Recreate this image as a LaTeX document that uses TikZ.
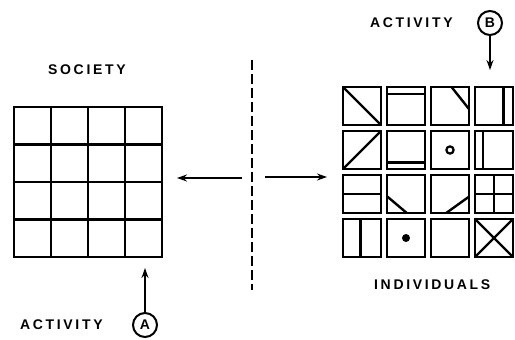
\documentclass[tikz,border=0pt]{standalone}
\usepackage{fontspec}
\usetikzlibrary{arrows.meta,calc}
\newfontfamily\labfont[LetterSpace=19]{Liberation Sans}
\newfontfamily\plainfont{Liberation Sans}
\begin{document}
\begin{tikzpicture}[x=1pt,y=-1pt,
  lab/.style={inner sep=0pt,anchor=west,font=\labfont\bfseries\fontsize{14}{16}\selectfont},
  letterring/.style={circle,draw,line width=2pt,minimum size=24pt,inner sep=0pt,
    font=\plainfont\bfseries\fontsize{14}{16}\selectfont},
  cellbox/.style={draw,line width=2.6pt,minimum size=38pt,inner sep=0pt,outer sep=0pt},
  mark line/.style={line width=2.4pt},
  gridline/.style={line width=2.2pt},
  flow/.style={line width=2pt,-{Stealth[length=10pt,width=7pt]}},
  cut/.style={line width=2.2pt,dash pattern=on 10pt off 4pt}]
\useasboundingbox (0,0) rectangle (515,340);

% society: one square split into 4 x 4 equal cells
\node[draw,line width=2.6pt,minimum width=148pt,minimum height=150pt,inner sep=0pt,outer sep=0pt,anchor=north west]
  (soc) at (14,107) {};
\foreach \i in {1,2,3} {
  \draw[gridline] ($(soc.north west)+(37*\i,0)$) -- ($(soc.south west)+(37*\i,0)$);
  \draw[gridline] ($(soc.north west)+(0,37.5*\i)$) -- ($(soc.north east)+(0,37.5*\i)$);
}
\node[lab] (soclab) at (48,70) {SOCIETY};

% individuals: sixteen separate squares
\foreach \r in {1,...,4} {
  \foreach \c in {1,...,4} {
    \node[cellbox,anchor=north west] (c\r\c) at ({343+44*(\c-1)},{87+44*(\r-1)}) {};
  }
}
\node[lab] (indlab) at (374,285) {INDIVIDUALS};

% marks inside the individual squares (cell units, origin at top left)
\begin{scope}[shift={(c11.north west)},x=38pt,y=-38pt]
  \draw[mark line] (0,0) -- (1,1);
\end{scope}
\begin{scope}[shift={(c12.north west)},x=38pt,y=-38pt]
  \draw[mark line] (0,0.18) -- (1,0.18);
\end{scope}
\begin{scope}[shift={(c13.north west)},x=38pt,y=-38pt]
  \draw[mark line] (0.54,0) -- (1,0.58);
\end{scope}
\begin{scope}[shift={(c14.north west)},x=38pt,y=-38pt]
  \draw[mark line] (0.75,0) -- (0.75,1);
\end{scope}
\begin{scope}[shift={(c21.north west)},x=38pt,y=-38pt]
  \draw[mark line] (0,1) -- (1,0);
\end{scope}
\begin{scope}[shift={(c22.north west)},x=38pt,y=-38pt]
  \draw[mark line] (0,0.83) -- (1,0.83);
\end{scope}
\draw[line width=2.2pt] (c23.center) circle[radius=3.6pt];
\begin{scope}[shift={(c24.north west)},x=38pt,y=-38pt]
  \draw[mark line] (0.21,0) -- (0.21,1);
\end{scope}
\begin{scope}[shift={(c31.north west)},x=38pt,y=-38pt]
  \draw[mark line] (0,0.5) -- (1,0.5);
\end{scope}
\begin{scope}[shift={(c32.north west)},x=38pt,y=-38pt]
  \draw[mark line] (0,0.56) -- (0.52,1);
\end{scope}
\begin{scope}[shift={(c33.north west)},x=38pt,y=-38pt]
  \draw[mark line] (1,0.57) -- (0.4,1);
\end{scope}
\begin{scope}[shift={(c34.north west)},x=38pt,y=-38pt]
  \draw[mark line] (0.5,0) -- (0.5,1) (0,0.5) -- (1,0.5);
\end{scope}
\begin{scope}[shift={(c41.north west)},x=38pt,y=-38pt]
  \draw[mark line] (0.46,0) -- (0.46,1);
\end{scope}
\fill (c42.center) circle[radius=4pt];
\begin{scope}[shift={(c44.north west)},x=38pt,y=-38pt]
  \draw[mark line] (0,0) -- (1,1) (0,1) -- (1,0);
\end{scope}

% dividing line and the two flows
\coordinate (cuttop) at (252,60);
\coordinate (cutbot) at (252,290);
\draw[cut] (cuttop) -- (cutbot);
\coordinate (lfrom) at (242,178);
\coordinate (lto) at (177,178);
\coordinate (rfrom) at (265,177);
\coordinate (rto) at (327,177);
\draw[flow] (lfrom) -- (lto);
\draw[flow] (rfrom) -- (rto);

% activity A
\node[lab] (actA) at (20,325) {ACTIVITY};
\node[letterring] (A) at (145,325) {A};
\coordinate (Atip) at (145,268);
\draw[flow] (A.north) -- (Atip);

% activity B
\node[lab] (actB) at (370,23) {ACTIVITY};
\node[letterring] (B) at (490,23) {B};
\coordinate (Btip) at (490,70);
\draw[flow] (B.south) -- (Btip);
\end{tikzpicture}
\end{document}
